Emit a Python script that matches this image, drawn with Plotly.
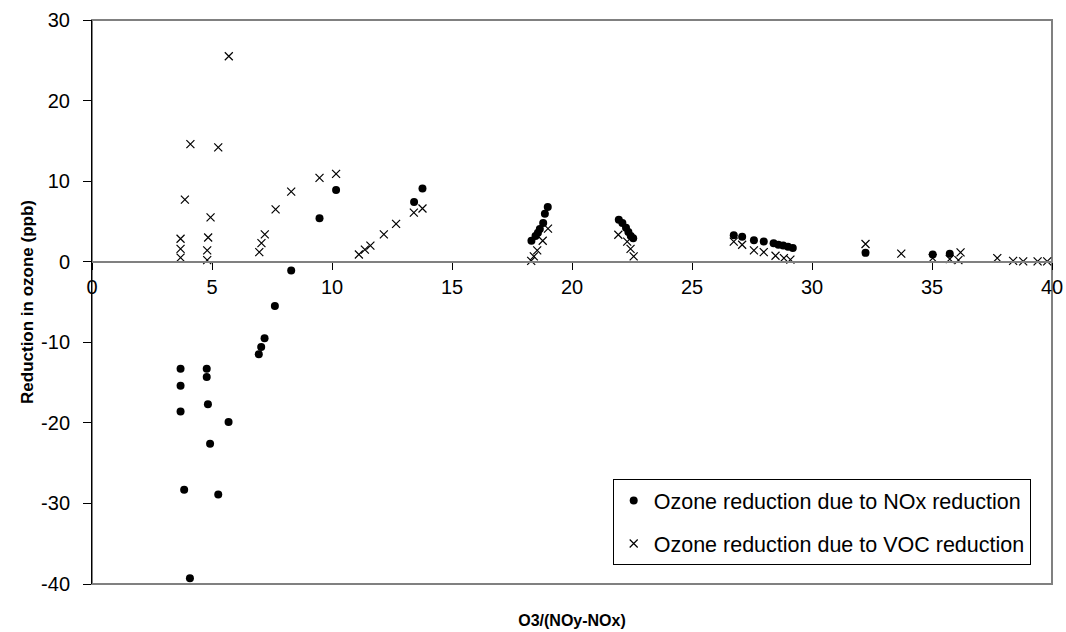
import plotly.graph_objects as go

# NOx-reduction series (filled dots)
nox_x = [3.69, 3.69, 3.69, 3.84, 4.08, 4.78, 4.78, 4.83, 4.92, 5.26, 5.69, 6.95, 7.05, 7.19, 7.62, 8.30,
         9.48, 10.17, 13.42, 13.77,
         18.31, 18.48, 18.58, 18.66, 18.80, 18.87, 18.99,
         21.95, 22.10, 22.25, 22.35, 22.45, 22.55,
         26.74, 27.09, 27.58, 27.99, 28.40, 28.60, 28.80, 29.00, 29.20,
         32.23, 35.03, 35.74]
nox_y = [-13.3, -15.4, -18.6, -28.3, -39.3, -13.3, -14.3, -17.7, -22.6, -28.9, -19.9, -11.5, -10.6, -9.5, -5.5, -1.1,
         5.4, 8.9, 7.4, 9.1,
         2.6, 3.2, 3.6, 4.05, 4.8, 5.95, 6.8,
         5.2, 4.8, 4.2, 3.7, 3.2, 2.9,
         3.3, 3.1, 2.65, 2.5, 2.3, 2.1, 2.0, 1.85, 1.7,
         1.1, 0.9, 1.0]

# VOC-reduction series (crosses)
voc_x = [3.69, 3.69, 3.69, 3.87, 4.10, 4.80, 4.84, 4.80, 4.94, 5.26, 5.70, 6.97, 7.06, 7.20, 7.65, 8.30,
         9.48, 10.17, 11.12, 11.37, 11.60, 12.16, 12.67, 13.41, 13.77,
         18.30, 18.41, 18.55, 18.78, 19.00,
         21.93, 22.30, 22.44, 22.57,
         26.74, 27.09, 27.58, 27.99, 28.48, 28.83, 29.10,
         32.23, 33.72, 35.03, 35.74, 36.19, 36.10, 37.72, 38.38, 38.80, 39.40, 39.80]
voc_y = [2.85, 1.6, 0.5, 7.7, 14.6, 1.4, 3.0, 0.2, 5.5, 14.2, 25.5, 1.2, 2.3, 3.4, 6.5, 8.7,
         10.4, 10.9, 0.9, 1.5, 2.0, 3.4, 4.7, 6.1, 6.6,
         0.1, 0.66, 1.4, 2.6, 4.1,
         3.35, 2.5, 1.6, 0.66,
         2.5, 2.1, 1.4, 1.2, 0.74, 0.45, 0.25,
         2.2, 1.0, 0.45, 0.33, 1.15, 0.2, 0.45, 0.1, 0.05, 0.05, 0.05]

x_range = [0, 40]
y_range = [-40, 30]
x_ticks = [0, 5, 10, 15, 20, 25, 30, 35, 40]
y_ticks = [30, 20, 10, 0, -10, -20, -30, -40]

FONT = "Liberation Sans, Arial, sans-serif"

fig = go.Figure()
fig.add_trace(go.Scatter(
    x=nox_x, y=nox_y, mode="markers", name="Ozone reduction due to NOx reduction",
    legendgroup="a",
    marker=dict(symbol="circle", size=8, color="black", line=dict(width=0)),
))
fig.add_trace(go.Scatter(
    x=voc_x, y=voc_y, mode="markers", name="Ozone reduction due to VOC reduction",
    legendgroup="b",
    marker=dict(symbol="x-thin", size=8, color="black", line=dict(width=1.2, color="black")),
))

zero_pos = (0 - y_range[0]) / (y_range[1] - y_range[0])

fig.update_layout(
    width=1066, height=632,
    margin=dict(l=92, r=14, t=20, b=48),
    paper_bgcolor="white", plot_bgcolor="white",
    font=dict(family=FONT, size=20, color="black"),
    showlegend=True,
    legend=dict(
        x=0.5424, y=0.186, xanchor="left", yanchor="top",
        bgcolor="white", bordercolor="black", borderwidth=1,
        font=dict(size=21.5, family=FONT),
        tracegroupgap=12, itemsizing="trace",
    ),
    xaxis=dict(
        range=x_range, tickvals=x_ticks, ticktext=[str(v) for v in x_ticks],
        anchor="free", position=zero_pos, automargin=False,
        showline=True, linecolor="#808080", linewidth=2,
        ticks="outside", ticklen=7, tickcolor="black", tickwidth=1,
        showgrid=False, zeroline=False,
        tickfont=dict(size=20),
    ),
    xaxis2=dict(
        range=x_range, overlaying="x", anchor="y", side="bottom", automargin=False,
        showticklabels=False, ticks="", showgrid=False, zeroline=False,
        showline=False,
        title=dict(text="<b>O3/(NOy-NOx)</b>", font=dict(size=16), standoff=30),
    ),
    yaxis=dict(
        range=y_range, tickvals=y_ticks, ticktext=[str(v) for v in y_ticks],
        automargin=False,
        showline=True, linecolor="black", linewidth=1,
        ticks="outside", ticklen=8, tickcolor="black",
        showgrid=False, zeroline=False,
        tickfont=dict(size=20), ticklabelstandoff=9,
        title=dict(text="<b>Reduction in ozone (ppb)</b>", font=dict(size=17), standoff=3),
    ),
    shapes=[dict(type="rect", xref="paper", yref="paper", x0=0, x1=1, y0=0, y1=1,
                 line=dict(color="#808080", width=2), layer="below")],
)
fig.add_trace(go.Scatter(x=[None], y=[None], xaxis="x2", showlegend=False, hoverinfo="skip"))

fig.write_html("out.html", config={"displayModeBar": False},
               post_script="document.body.style.margin='0px';")
